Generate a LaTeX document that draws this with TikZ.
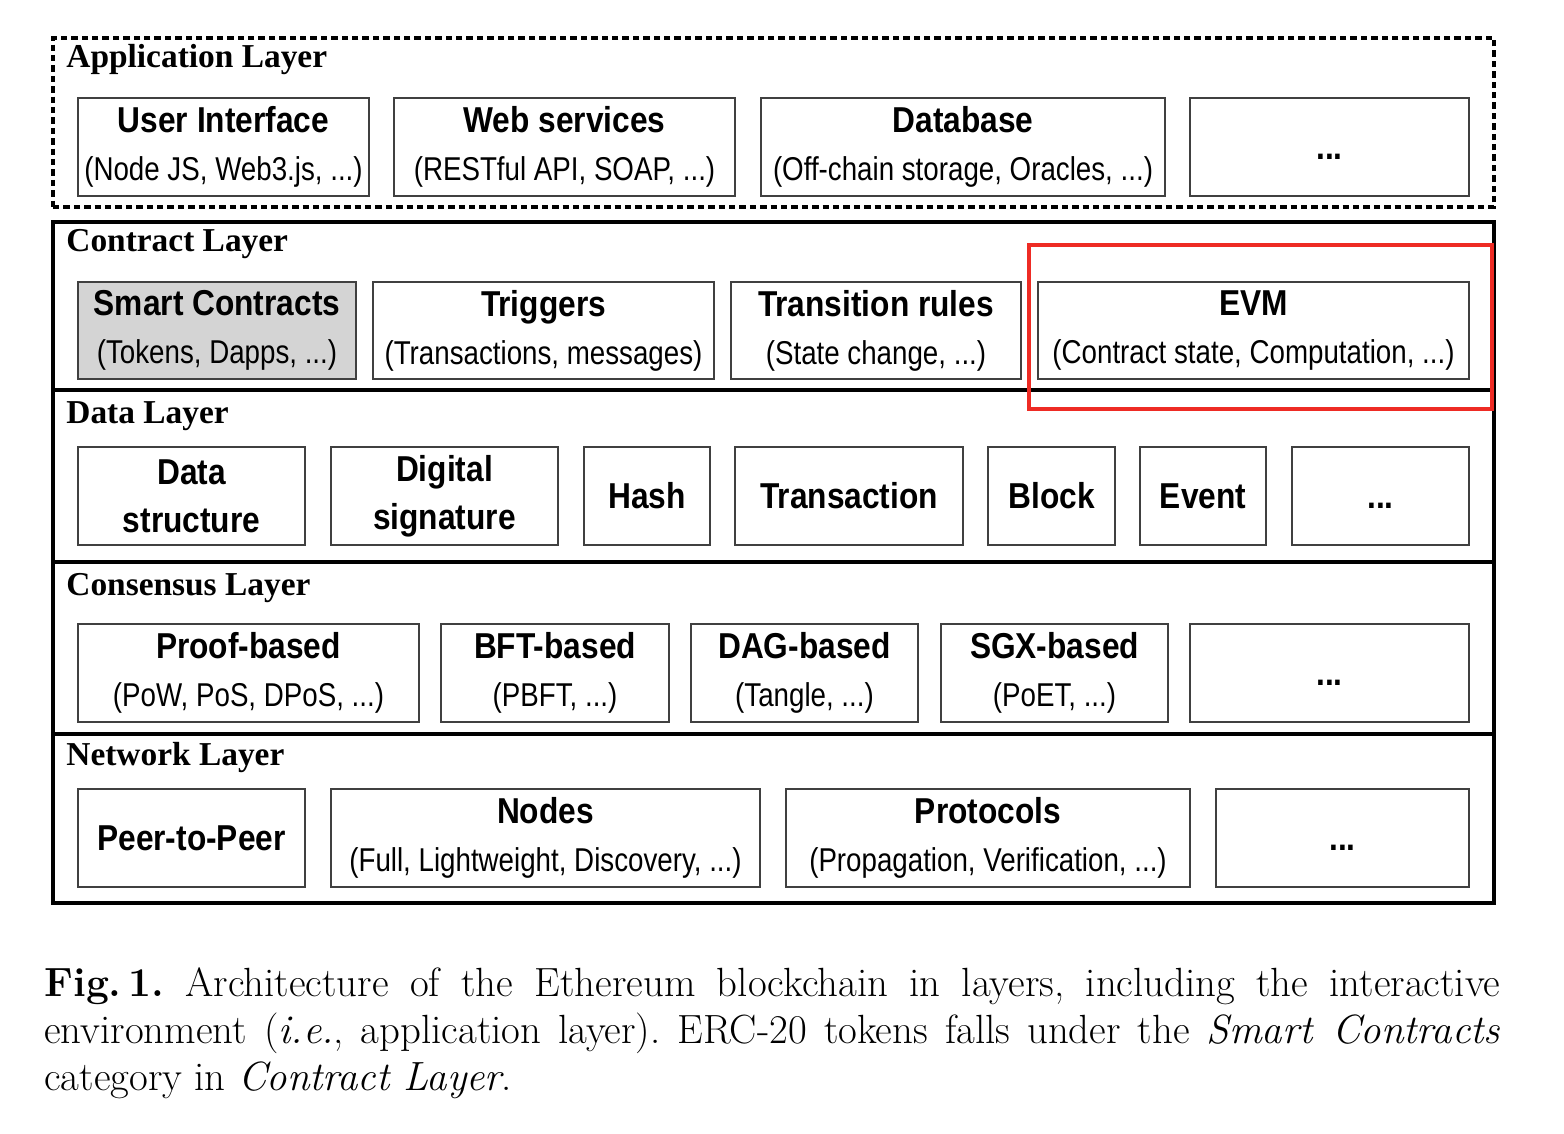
\documentclass[tikz,border=0pt]{standalone}
\usepackage{fontspec}
\newfontfamily\arBfam[FakeStretch=0.88]{Liberation Sans}
\newfontfamily\arRfam[FakeStretch=0.84]{Liberation Sans}
\newfontfamily\timesfam{Liberation Serif}
\newcommand\ttl{\arBfam\bfseries\fontsize{18}{24}\selectfont}
\newcommand\subtx{\arRfam\fontsize{16.5}{24}\selectfont}
\newcommand\dotsbox{\ttl\vphantom{H}...}
\definecolor{hired}{HTML}{EE2B24}
\newcommand\bxx[6]{%
  \node[boxst, minimum width=#4*0.5pt, minimum height=#5*0.5pt] (#1) at (#2,#3) {#6};}
\newcommand\lyr[6]{%
  \node[layerst, #6, minimum width=1441*0.5pt, minimum height=#4*0.5pt] (#1) at (773.5,#3) {};
  \node[ltitle] (#1t) at (66,#2) {#5};}
\begin{document}
\begin{tikzpicture}[x=0.5pt,y=-0.5pt,
  boxst/.style={draw=black!75, line width=1pt, inner sep=0pt, align=center,
    font=\fontsize{18}{24}\selectfont},
  layerst/.style={draw=black, line width=2.2pt, inner sep=0pt},
  ltitle/.style={anchor=base west, inner sep=0pt, font=\timesfam\bfseries\fontsize{16.7}{20}\selectfont},
  hilite/.style={draw=hired, line width=2pt, inner sep=0pt}]
\useasboundingbox (0,0) rectangle (1564,1134);

% layers
\lyr{applayer}{68}{122.5}{169}{Application Layer}{dash pattern=on 3.2pt off 2pt, line width=1.8pt}
\lyr{conlayer}{252}{306}{168}{Contract Layer}{}
\lyr{datlayer}{423}{476}{172}{Data Layer}{}
\lyr{cnslayer}{595}{648}{172}{Consensus Layer}{}
\lyr{netlayer}{765}{818.5}{169}{Network Layer}{}

% application layer
\bxx{ui}{223.5}{147}{291}{98}{{\ttl User Interface}\\{\subtx (Node JS, Web3.js, ...)}}
\bxx{ws}{564.5}{147}{341}{98}{{\ttl Web services}\\{\subtx (RESTful API, SOAP, ...)}}
\bxx{db}{963}{147}{404}{98}{{\ttl Database}\\{\subtx (Off-chain storage, Oracles, ...)}}
\bxx{appdots}{1329.5}{147}{279}{98}{\dotsbox}

% contract layer
\node[boxst, fill=black!17, minimum width=278*0.5pt, minimum height=97*0.5pt] (sc) at (217,330.5) {{\ttl Smart Contracts}\\{\subtx (Tokens, Dapps, ...)}};
\bxx{trig}{543.5}{330.5}{341}{97}{{\ttl Triggers}\\{\subtx (Transactions, messages)}}
\bxx{tr}{876}{330.5}{290}{97}{{\ttl Transition rules}\\{\subtx (State change, ...)}}
\bxx{evm}{1253.5}{330.5}{431}{97}{{\ttl EVM}\\{\subtx (Contract state, Computation, ...)}}

% data layer
\bxx{ds}{191.5}{496}{227}{98}{{\ttl Data}\\{\ttl structure}}
\bxx{dsig}{444.5}{496}{227}{98}{{\ttl Digital}\\{\ttl signature}}
\bxx{hash}{647}{496}{126}{98}{\ttl Hash}
\bxx{tx}{849}{496}{228}{98}{\ttl Transaction}
\bxx{blk}{1051.5}{496}{127}{98}{\ttl Block}
\bxx{evt}{1203}{496}{126}{98}{\ttl Event}
\bxx{datadots}{1380.5}{496}{177}{98}{\dotsbox}

% consensus layer
\bxx{pb}{248.5}{673}{341}{98}{{\ttl Proof-based}\\{\subtx (PoW, PoS, DPoS, ...)}}
\bxx{bft}{555}{673}{228}{98}{{\ttl BFT-based}\\{\subtx (PBFT, ...)}}
\bxx{dag}{804.5}{673}{227}{98}{{\ttl DAG-based}\\{\subtx (Tangle, ...)}}
\bxx{sgx}{1054.5}{673}{227}{98}{{\ttl SGX-based}\\{\subtx (PoET, ...)}}
\bxx{cnsdots}{1329.5}{673}{279}{98}{\dotsbox}

% network layer
\bxx{p2p}{191.5}{838}{227}{98}{\ttl Peer-to-Peer}
\bxx{nodes}{545.5}{838}{429}{98}{{\ttl Nodes}\\{\subtx (Full, Lightweight, Discovery, ...)}}
\bxx{proto}{988}{838}{404}{98}{{\ttl Protocols}\\{\subtx (Propagation, Verification, ...)}}
\bxx{netdots}{1342.5}{838}{253}{98}{\dotsbox}

% highlight
\node[hilite, minimum width=463*0.5pt, minimum height=164*0.5pt] (evmhl) at (1260.5,327) {};

% caption
\node[anchor=base west, inner sep=0pt, text width=728pt, align=justify,
  font=\frenchspacing\fontsize{20.4}{23.5}\selectfont] (caption) at (44,996)
  {\textbf{Fig.\,1.} Architecture of the Ethereum blockchain in layers, including the interactive\linebreak
   environment (\emph{i.e.}, application layer). ERC-20 tokens falls under the \emph{Smart Contracts}\linebreak
   category in \emph{Contract Layer}.};
\end{tikzpicture}
\end{document}
